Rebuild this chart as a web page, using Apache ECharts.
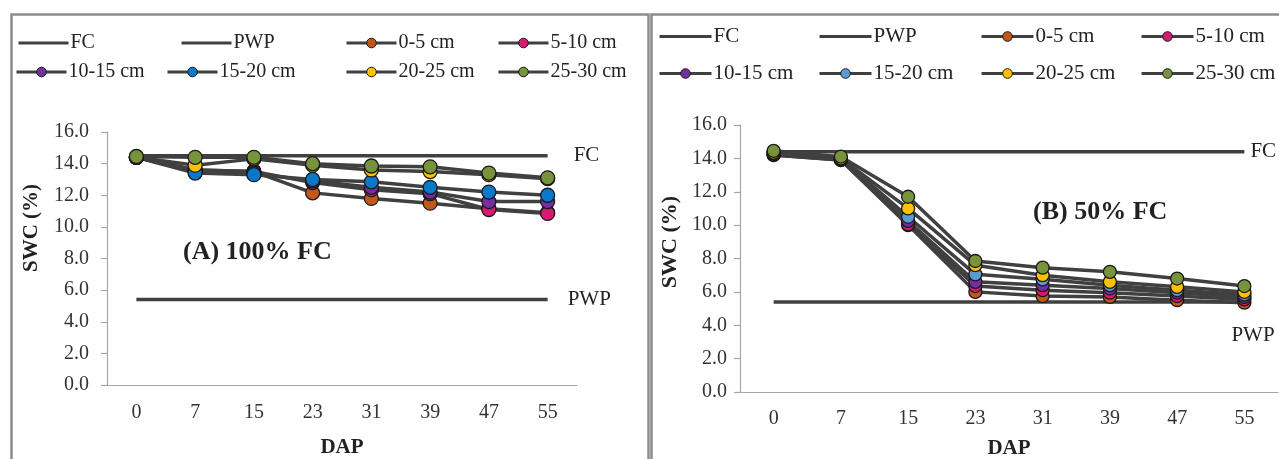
<!DOCTYPE html>
<html><head><meta charset="utf-8">
<script src="https://cdn.jsdelivr.net/npm/echarts@6/dist/echarts.min.js"></script>
<style>html,body{margin:0;padding:0;background:#fff}#c{width:1279px;height:459px}</style>
</head><body><div id="c"></div>
<script>
// ---- data ----
const days = ['0', '7', '15', '23', '31', '39', '47', '55'];
const depths = ['0-5 cm', '5-10 cm', '10-15 cm', '15-20 cm', '20-25 cm', '25-30 cm'];
const fcA = 14.5, pwpA = 5.4;
const fcB = 14.4, pwpB = 5.4;
// Panel A: 100% FC
const a0_5   = [14.4, 13.6, 13.5, 12.15, 11.8, 11.5, 11.15, 10.9];
const a5_10  = [14.4, 13.6, 13.5, 12.8, 12.35, 12.1, 11.1, 10.85];
const a10_15 = [14.4, 13.5, 13.4, 12.9, 12.5, 12.2, 11.6, 11.6];
const a15_20 = [14.4, 13.4, 13.3, 13.0, 12.85, 12.5, 12.2, 12.0];
const a20_25 = [14.4, 13.9, 14.3, 13.9, 13.6, 13.5, 13.3, 13.05];
const a25_30 = [14.45, 14.4, 14.4, 14.0, 13.85, 13.8, 13.4, 13.1];
// Panel B: 50% FC
const b0_5   = [14.2, 13.9, 10.0, 6.0, 5.75, 5.7, 5.5, 5.35];
const b5_10  = [14.2, 13.9, 10.05, 6.35, 6.1, 5.95, 5.75, 5.55];
const b10_15 = [14.25, 13.95, 10.25, 6.6, 6.4, 6.2, 5.95, 5.7];
const b15_20 = [14.3, 14.0, 10.5, 7.05, 6.75, 6.4, 6.1, 5.85];
const b20_25 = [14.35, 14.0, 11.0, 7.6, 7.0, 6.6, 6.3, 6.0];
const b25_30 = [14.45, 14.1, 11.7, 7.85, 7.45, 7.2, 6.8, 6.35];

const seriesA = [a0_5, a5_10, a10_15, a15_20, a20_25, a25_30];
const seriesB = [b0_5, b5_10, b10_15, b15_20, b20_25, b25_30];

// ---- styles ----
const FONT = 'Liberation Serif';
const LINE = '#404040';
const colorsA = ['#C0581E', '#D81B72', '#7030A0', '#0A78C8', '#FFC000', '#77933C'];
const colorsB = ['#C0581E', '#D81B72', '#7030A0', '#5B9BD5', '#FFC000', '#77933C'];

function refLine(panel, gi, name, val, label, lbl) {
  return {
    name: panel + '|' + name, type: 'line', xAxisIndex: gi, yAxisIndex: gi,
    data: days.map(() => val), symbol: 'none', silent: true, animation: false,
    lineStyle: {color: LINE, width: 3.5}, itemStyle: {color: LINE},
    endLabel: Object.assign({show: true, formatter: label, fontFamily: FONT, fontSize: 21, color: '#222'}, lbl)
  };
}
function depthSeries(panel, gi, arrs, cols, size) {
  return arrs.map((d, i) => ({
    name: panel + '|' + depths[i], type: 'line', xAxisIndex: gi, yAxisIndex: gi,
    data: d, symbol: 'circle', symbolSize: size, animation: false,
    lineStyle: {color: LINE, width: 3.5},
    itemStyle: {color: cols[i], borderColor: '#1a1a1a', borderWidth: 1.3}
  }));
}

const series = [
  refLine('A', 0, 'FC', fcA, 'FC', {distance: 26}),
  refLine('A', 0, 'PWP', pwpA, 'PWP', {distance: 20}),
  ...depthSeries('A', 0, seriesA, colorsA, 14),
  refLine('B', 1, 'FC', fcB, 'FC', {distance: 6}),
  refLine('B', 1, 'PWP', pwpB, 'PWP', {distance: 5, offset: [-18, 34]}),
  ...depthSeries('B', 1, seriesB, colorsB, 13)
];

const legendNames = ['FC', 'PWP', ...depths];
const legA = {lefts: [17, 180, 345, 497, 15, 166, 345, 497], tops: [33, 62], w: 50, fs: 20};
const legB = {lefts: [658, 818, 980, 1140, 658, 818, 980, 1140], tops: [26, 63], w: 52, fs: 21};
const legends = [];
[['A', legA], ['B', legB]].forEach(([p, L]) => {
  legendNames.forEach((n, i) => {
    const plain = i < 2;
    const leg = {
      data: [p + '|' + n], left: L.lefts[i], top: L.tops[i < 4 ? 0 : 1],
      padding: 0, itemWidth: L.w, itemHeight: 12, selectedMode: false,
      formatter: s => s.split('|')[1],
      lineStyle: {color: LINE, width: 3},
      textStyle: {fontFamily: FONT, fontSize: L.fs, color: '#222', padding: [0, 0, 0, -3]}
    };
    if (plain) leg.itemStyle = {color: 'rgba(0,0,0,0)', borderColor: 'rgba(0,0,0,0)', borderWidth: 0};
    else leg.itemStyle = {borderColor: '#1a1a1a', borderWidth: 1};
    legends.push(leg);
  });
});

function xAx(gi, gap, margin) {
  return {
    type: 'category', gridIndex: gi, data: days, boundaryGap: true,
    axisLine: {lineStyle: {color: '#a6a6a6', width: 1.2}},
    axisTick: {length: 6, lineStyle: {color: '#a6a6a6', width: 1.2}},
    axisLabel: {fontFamily: FONT, fontSize: 20, color: '#333', margin: margin},
    name: 'DAP', nameLocation: 'middle', nameGap: gap,
    nameTextStyle: {fontFamily: FONT, fontSize: 21, fontWeight: 'bold', color: '#222'}
  };
}
function yAx(gi, margin) {
  return {
    type: 'value', gridIndex: gi, min: 0, max: 16, interval: 2,
    axisLine: {show: true, lineStyle: {color: '#a6a6a6', width: 1.2}},
    axisTick: {show: true, length: 6, lineStyle: {color: '#a6a6a6', width: 1.2}},
    splitLine: {show: false},
    axisLabel: {fontFamily: FONT, fontSize: 20, color: '#333', margin: margin, formatter: v => v.toFixed(1)}
  };
}

const chart = echarts.init(document.getElementById('c'), null, {renderer: 'canvas'});
chart.setOption({
  backgroundColor: '#fff',
  animation: false,
  legend: legends,
  grid: [
    {left: 107, right: 702, top: 132, bottom: 74, containLabel: false, outerBoundsMode: 'none'},
    {left: 740, right: 1, top: 125, bottom: 67, containLabel: false, outerBoundsMode: 'none'}
  ],
  xAxis: [xAx(0, 52, 18), xAx(1, 46, 17)],
  yAxis: [yAx(0, 18), yAx(1, 13)],
  series: series,
  graphic: [
    {type: 'rect', left: 9, top: 12, shape: {width: 637, height: 470}, style: {fill: 'none', stroke: '#8c8c8c', lineWidth: 2.5}, silent: true},
    {type: 'rect', left: 649, top: 12, shape: {width: 660, height: 470}, style: {fill: 'none', stroke: '#8c8c8c', lineWidth: 2.5}, silent: true},
    {type: 'text', x: 32, y: 228, rotation: Math.PI / 2, style: {text: 'SWC (%)', fontFamily: FONT, fontSize: 21, fontWeight: 'bold', fill: '#222', align: 'center', verticalAlign: 'middle'}},
    {type: 'text', x: 670, y: 242, rotation: Math.PI / 2, style: {text: 'SWC (%)', fontFamily: FONT, fontSize: 22, fontWeight: 'bold', fill: '#222', align: 'center', verticalAlign: 'middle'}},
    {type: 'text', x: 183, y: 252, style: {text: '(A) 100% FC', fontFamily: FONT, fontSize: 26, fontWeight: 'bold', fill: '#222', align: 'left', verticalAlign: 'middle'}},
    {type: 'text', x: 1033, y: 212, style: {text: '(B) 50% FC', fontFamily: FONT, fontSize: 26, fontWeight: 'bold', fill: '#222', align: 'left', verticalAlign: 'middle'}}
  ]
});
</script></body></html>
